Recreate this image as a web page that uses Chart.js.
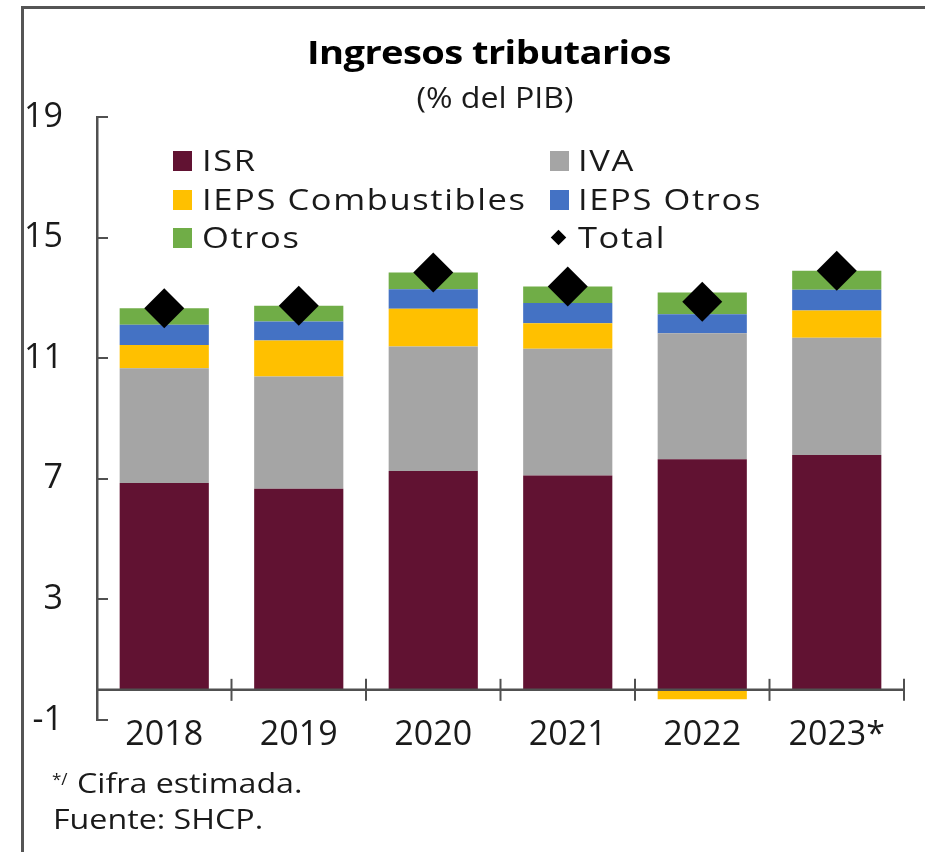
<!DOCTYPE html>
<html>
<head>
<meta charset="utf-8">
<script src="https://cdn.jsdelivr.net/npm/chart.js@4.4.1/dist/chart.umd.min.js"></script>
<style>
  html, body { margin: 0; padding: 0; background: #fff; overflow: hidden; }
  #wrap { position: relative; width: 925px; height: 852px; }
  #frame { position: absolute; left: 21px; top: 6px; width: 920px; height: 860px;
           border-left: 3px solid #555; border-top: 3px solid #555; }
  canvas { position: absolute; left: 0; top: 0; }
  .txt { position: absolute; white-space: nowrap; line-height: 1; color: #1a1a1a;
         font-family: 'Open Sans', sans-serif; }
  .leg { font-size: 30px; transform-origin: left center; transform: scaleX(1.15); letter-spacing: 1.4px; }
  .sw { position: absolute; width: 19px; height: 20px; }
  .note { font-size: 28px; transform-origin: left center; transform: scaleX(1.15); }
</style>
</head>
<body>
<div id="wrap">
  <div id="frame"></div>
  <canvas id="ingresosChart" width="925" height="852"></canvas>

  <!-- titulo -->
  <div class="txt" style="left:489px;top:36px;font-weight:700;font-size:32px;letter-spacing:-0.5px;transform:translateX(-50%) scaleX(1.19);color:#000;">Ingresos tributarios</div>
  <div class="txt" style="left:495px;top:82px;font-size:30px;transform:translateX(-50%) scaleX(1.07);">(% del PIB)</div>

  <!-- leyenda -->
  <div class="sw" style="left:173px;top:151px;background:#611232;"></div>
  <div class="txt leg" style="left:202px;top:145px;">ISR</div>
  <div class="sw" style="left:173px;top:190px;background:#FFC000;"></div>
  <div class="txt leg" style="left:202px;top:184px;">IEPS Combustibles</div>
  <div class="sw" style="left:173px;top:228px;background:#70AD47;"></div>
  <div class="txt leg" style="left:202px;top:222px;">Otros</div>

  <div class="sw" style="left:550px;top:151px;background:#A5A5A5;"></div>
  <div class="txt leg" style="left:578px;top:145px;">IVA</div>
  <div class="sw" style="left:550px;top:190px;background:#4472C4;"></div>
  <div class="txt leg" style="left:578px;top:184px;">IEPS Otros</div>
  <div style="position:absolute;left:553px;top:232px;width:11px;height:11px;background:#000;transform:rotate(45deg);"></div>
  <div class="txt leg" style="left:578px;top:222px;">Total</div>

  <!-- notas -->
  <div class="txt" style="left:52px;top:770px;font-size:17px;">*/</div>
  <div class="txt note" style="left:77px;top:768px;">Cifra estimada.</div>
  <div class="txt note" style="left:53px;top:804px;">Fuente: SHCP.</div>
</div>

<script>
// datos (% del PIB)
const years = ['2018', '2019', '2020', '2021', '2022', '2023*'];
const isr = [6.86, 6.67, 7.26, 7.11, 7.65, 7.79];
const iva = [3.81, 3.72, 4.13, 4.20, 4.18, 3.89];
const iepsCombustibles = [0.77, 1.20, 1.25, 0.85, -0.31, 0.90];
const iepsOtros = [0.67, 0.63, 0.65, 0.67, 0.63, 0.69];
const otros = [0.55, 0.52, 0.55, 0.55, 0.72, 0.63];
const total = [12.66, 12.74, 13.84, 13.38, 12.87, 13.90];
const yTicks = [-1, 3, 7, 11, 15, 19];

const axisColor = '#505050';
const textColor = '#1a1a1a';

// linea del cero y marcas entre categorias
const zeroAxis = {
    id: 'zeroAxis',
    afterDatasetsDraw(chart) {
        const { ctx, chartArea, scales: { x, y } } = chart;
        const y0 = y.getPixelForValue(0);
        ctx.save();
        ctx.strokeStyle = axisColor;
        ctx.lineWidth = 2.5;
        ctx.beginPath();
        ctx.moveTo(chartArea.left, y0);
        ctx.lineTo(chartArea.right, y0);
        ctx.stroke();
        ctx.lineWidth = 2;
        for (let i = 0; i <= years.length; i++) {
            const px = x.getPixelForValue(i - 0.5);
            ctx.beginPath();
            ctx.moveTo(px, y0 - 11);
            ctx.lineTo(px, y0 + 11);
            ctx.stroke();
        }
        ctx.restore();
    }
};

const ctx = document.getElementById('ingresosChart').getContext('2d');

const barOpts = { stack: 'a', order: 1, barPercentage: 0.663, categoryPercentage: 1 };

new Chart(ctx, {
    data: {
        labels: years,
        datasets: [
            { type: 'bar', label: 'ISR', data: isr, backgroundColor: '#611232', ...barOpts },
            { type: 'bar', label: 'IVA', data: iva, backgroundColor: '#A5A5A5', ...barOpts },
            { type: 'bar', label: 'IEPS Combustibles', data: iepsCombustibles, backgroundColor: '#FFC000', ...barOpts },
            { type: 'bar', label: 'IEPS Otros', data: iepsOtros, backgroundColor: '#4472C4', ...barOpts },
            { type: 'bar', label: 'Otros', data: otros, backgroundColor: '#70AD47', ...barOpts },
            {
                type: 'line', label: 'Total', data: total, stack: 'total', order: 0,
                showLine: false, pointStyle: 'rectRot', pointRadius: 20,
                pointBackgroundColor: '#000', pointBorderColor: '#000', pointBorderWidth: 0
            }
        ]
    },
    options: {
        responsive: false,
        animation: false,
        events: [],
        layout: { padding: { top: 117, right: 21, bottom: 88, left: 0 } },
        plugins: {
            legend: { display: false },
            title: { display: false },
            tooltip: { enabled: false }
        },
        scales: {
            x: {
                stacked: true,
                grid: { display: false, drawTicks: false },
                border: { display: false },
                ticks: {
                    color: textColor, padding: 0,
                    font: { family: 'Open Sans', size: 34, lineHeight: 0.9 }
                },
                afterFit: s => { s.height = 44; }
            },
            y: {
                stacked: true,
                min: -1,
                max: 19,
                afterBuildTicks: s => { s.ticks = yTicks.map(v => ({ value: v })); },
                grid: { drawOnChartArea: false, drawTicks: true, tickLength: -11, color: axisColor, lineWidth: 2 },
                border: { display: true, color: axisColor, width: 2.5 },
                ticks: {
                    color: textColor, padding: 45,
                    font: { family: 'Open Sans', size: 34 }
                },
                afterFit: s => { s.width = 97; }
            }
        }
    },
    plugins: [zeroAxis]
});
</script>
</body>
</html>
